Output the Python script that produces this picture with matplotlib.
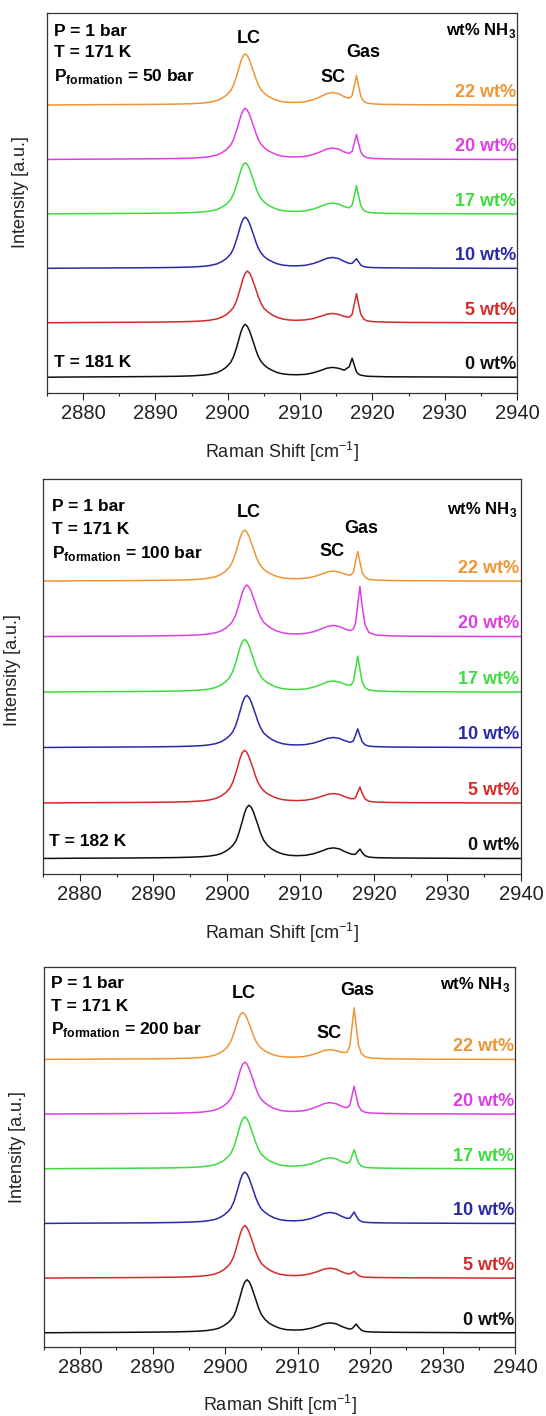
import matplotlib
matplotlib.use("Agg")
import matplotlib.pyplot as plt
import matplotlib.transforms as mtransforms
from matplotlib.ticker import MultipleLocator

plt.rcParams['font.family'] = ['Liberation Sans', 'DejaVu Sans']
plt.rcParams['mathtext.fontset'] = 'custom'
plt.rcParams['mathtext.rm'] = 'Liberation Sans'
plt.rcParams['mathtext.bf'] = 'Liberation Sans:bold'

# ---------------- data ----------------
raman_shift = [2875, 2880, 2885, 2890, 2893, 2895, 2896.5, 2897.5, 2898.5, 2899.2,
               2899.8, 2900.4, 2900.8, 2901.2, 2901.5, 2901.8, 2902.1, 2902.4, 2902.7, 2903.0,
               2903.3, 2903.6, 2903.9, 2904.2, 2904.6, 2905.0, 2905.5, 2906.1, 2906.8, 2907.6,
               2908.5, 2909.5, 2910.7, 2911.8, 2912.8, 2913.7, 2914.5, 2915.3, 2916.1, 2916.8,
               2917.2, 2917.5, 2917.8, 2918.1, 2918.4, 2918.8, 2919.3, 2920.2, 2922, 2925,
               2930, 2935, 2940]

wt_labels = ["0 wt%", "5 wt%", "10 wt%", "17 wt%", "20 wt%", "22 wt%"]
formation_pressures = ["50", "100", "200"]
low_temp_labels = ["T = 181 K", "T = 182 K", None]

# P_formation = 50 bar
p50_0wt = [0, .005, .008, .013, .017, .025, .037, .052, .083, .129,
           .184, .272, .378, .538, .679, .825, .926, .970, .936, .854,
           .737, .621, .495, .388, .291, .228, .173, .129, .087, .061,
           .049, .045, .052, .080, .121, .165, .181, .164, .130, .192,
           .348, .219, .099, .055, .038, .027, .018, .014, .008, .006,
           .004, .001, 0]
p50_5wt = [0, .005, .008, .012, .017, .024, .033, .047, .070, .105,
           .150, .219, .285, .399, .527, .665, .808, .907, .950, .917,
           .836, .722, .608, .485, .356, .266, .204, .147, .102, .068,
           .051, .045, .053, .077, .116, .157, .171, .155, .117, .102,
           .155, .343, .534, .337, .157, .067, .033, .020, .012, .006,
           .004, .001, 0]
p50_10wt = [0, .005, .008, .012, .017, .024, .036, .051, .081, .125,
            .179, .263, .367, .522, .658, .799, .898, .940, .907, .827,
            .714, .602, .479, .376, .282, .221, .167, .125, .085, .059,
            .048, .045, .055, .087, .134, .183, .200, .181, .127, .090,
            .092, .132, .177, .117, .061, .031, .020, .013, .009, .006,
            .004, .001, 0]
p50_17wt = [0, .005, .008, .012, .017, .024, .036, .051, .081, .125,
            .179, .263, .367, .522, .658, .799, .898, .940, .907, .827,
            .714, .602, .479, .376, .282, .221, .167, .125, .085, .059,
            .048, .045, .055, .087, .134, .183, .200, .181, .134, .111,
            .160, .336, .517, .328, .153, .065, .033, .018, .010, .006,
            .004, .001, 0]
p50_20wt = [0, .005, .008, .012, .017, .024, .036, .051, .081, .125,
            .179, .263, .367, .522, .658, .799, .898, .940, .907, .827,
            .714, .602, .479, .376, .282, .221, .167, .125, .085, .059,
            .048, .046, .056, .090, .140, .192, .210, .190, .138, .111,
            .151, .302, .458, .291, .137, .060, .031, .017, .010, .006,
            .004, .001, 0]
p50_22wt = [0, .005, .008, .012, .017, .024, .036, .051, .081, .125,
            .179, .263, .367, .522, .658, .799, .898, .940, .907, .827,
            .714, .602, .479, .376, .282, .221, .167, .125, .085, .059,
            .048, .047, .059, .097, .152, .210, .230, .208, .152, .124,
            .172, .354, .541, .343, .160, .069, .034, .019, .011, .006,
            .004, .001, 0]

# P_formation = 100 bar
p100_0wt = [0, .005, .007, .012, .016, .023, .031, .041, .061, .086,
            .128, .182, .235, .307, .403, .533, .672, .816, .917, .960,
            .926, .845, .730, .614, .451, .331, .240, .171, .121, .080,
            .057, .050, .057, .085, .129, .176, .191, .173, .120, .084,
            .073, .078, .124, .170, .108, .050, .025, .015, .010, .007,
            .004, .001, 0]
p100_5wt = [0, .005, .008, .012, .017, .025, .036, .051, .082, .126,
            .181, .266, .371, .527, .665, .808, .907, .950, .917, .836,
            .722, .608, .485, .380, .285, .223, .169, .126, .086, .060,
            .048, .043, .051, .076, .115, .156, .170, .154, .109, .079,
            .076, .099, .194, .287, .177, .073, .031, .017, .010, .006,
            .004, .001, 0]
p100_10wt = [0, .005, .008, .012, .017, .024, .033, .046, .070, .103,
             .149, .216, .282, .395, .522, .658, .799, .898, .940, .907,
             .827, .714, .602, .479, .353, .263, .202, .146, .101, .068,
             .051, .046, .053, .081, .122, .166, .181, .164, .119, .094,
             .118, .225, .335, .214, .104, .048, .025, .016, .010, .006,
             .004, .001, 0]
p100_17wt = [0, .005, .008, .012, .017, .025, .036, .051, .082, .126,
             .181, .266, .371, .527, .665, .808, .907, .950, .917, .836,
             .722, .608, .485, .380, .285, .223, .169, .126, .086, .060,
             .049, .045, .056, .087, .134, .183, .200, .181, .136, .119,
             .186, .414, .647, .408, .188, .078, .038, .021, .011, .006,
             .004, .001, 0]
p100_20wt = [0, .005, .007, .012, .017, .023, .033, .046, .069, .102,
             .147, .214, .279, .391, .516, .651, .791, .888, .930, .897,
             .818, .707, .595, .474, .349, .260, .200, .144, .100, .067,
             .051, .046, .057, .087, .135, .184, .200, .181, .133, .109,
             .134, .242, .581, .905, .549, .211, .075, .029, .014, .006,
             .004, .001, 0]
p100_22wt = [0, .005, .007, .012, .017, .024, .035, .050, .079, .122,
             .175, .258, .359, .511, .644, .782, .879, .920, .888, .810,
             .699, .589, .469, .368, .276, .216, .164, .122, .083, .058,
             .046, .043, .051, .079, .120, .165, .180, .163, .122, .105,
             .158, .344, .534, .338, .157, .067, .033, .019, .011, .006,
             .004, .001, 0]

# P_formation = 200 bar
p200_0wt = [0, .005, .007, .012, .016, .023, .031, .042, .062, .087,
            .129, .184, .238, .310, .407, .538, .679, .825, .926, .970,
            .936, .854, .737, .621, .456, .335, .243, .173, .122, .081,
            .056, .050, .055, .082, .122, .167, .181, .165, .115, .081,
            .069, .075, .117, .159, .102, .048, .023, .015, .010, .007,
            .004, .001, 0]
p200_5wt = [0, .005, .008, .012, .017, .024, .034, .047, .071, .106,
            .152, .221, .288, .403, .533, .672, .816, .917, .960, .926,
            .845, .730, .614, .490, .360, .269, .206, .149, .103, .069,
            .052, .046, .054, .081, .122, .166, .181, .164, .115, .081,
            .076, .099, .125, .085, .048, .027, .018, .013, .009, .006,
            .004, .001, 0]
p200_10wt = [0, .005, .008, .012, .017, .024, .033, .046, .070, .103,
             .149, .216, .282, .395, .522, .658, .799, .898, .940, .907,
             .827, .714, .602, .479, .353, .263, .202, .146, .101, .068,
             .052, .047, .057, .088, .135, .184, .201, .182, .128, .093,
             .098, .151, .208, .135, .070, .035, .021, .014, .009, .006,
             .004, .001, 0]
p200_17wt = [0, .005, .008, .012, .017, .024, .033, .047, .070, .105,
             .150, .219, .285, .399, .527, .665, .808, .907, .950, .917,
             .836, .722, .608, .485, .356, .266, .204, .147, .102, .068,
             .052, .047, .058, .088, .135, .184, .201, .182, .131, .102,
             .126, .235, .348, .222, .108, .049, .026, .017, .011, .006,
             .004, .001, 0]
p200_20wt = [0, .005, .008, .012, .017, .024, .033, .047, .070, .105,
             .150, .219, .285, .399, .527, .665, .808, .907, .950, .917,
             .836, .722, .608, .485, .356, .266, .204, .147, .102, .068,
             .052, .048, .059, .091, .141, .193, .211, .191, .140, .115,
             .161, .333, .509, .322, .152, .066, .033, .019, .011, .006,
             .004, .001, 0]
p200_22wt = [0, .004, .007, .011, .015, .022, .033, .046, .074, .114,
             .163, .241, .335, .477, .602, .731, .821, .860, .830, .757,
             .654, .550, .439, .344, .258, .202, .153, .114, .077, .054,
             .043, .041, .049, .078, .119, .164, .179, .162, .129, .129,
             .239, .589, .943, .591, .267, .107, .048, .025, .012, .006,
             .003, .001, 0]

panel_series = [
    [p50_0wt, p50_5wt, p50_10wt, p50_17wt, p50_20wt, p50_22wt],
    [p100_0wt, p100_5wt, p100_10wt, p100_17wt, p100_20wt, p100_22wt],
    [p200_0wt, p200_5wt, p200_10wt, p200_17wt, p200_20wt, p200_22wt],
]

# ---------------- style / layout ----------------
colors = ['#111111', '#D42A2A', '#2A2AA8', '#3EDB3E', '#DC40E4', '#EE9535']
W, H = 546, 1416
fig = plt.figure(figsize=(W / 100, H / 100), dpi=100)

boxes = [(47, 517, 13, 393), (43, 521, 479, 874), (44, 515, 967, 1347)]
ylims = [(-0.29, 6.69), (-0.28, 6.84), (-0.26, 6.69)]
txt = [
    dict(px=0.015, py=[0.950, 0.895, 0.832], nh=(0.998, 0.955), lc=(0.430, 0.934), gas=(0.672, 0.895),
         sc=(0.609, 0.829), tlow=(0.015, 0.079), xl=-0.155, yl=(-0.057, 0.53), lab_x=0.998),
    dict(px=0.019, py=[0.930, 0.871, 0.812], nh=(0.992, 0.922), lc=(0.431, 0.914), gas=(0.665, 0.875),
         sc=(0.605, 0.816), tlow=(0.012, 0.082), xl=-0.150, yl=(-0.063, 0.516), lab_x=0.997),
    dict(px=0.014, py=[0.957, 0.896, 0.836], nh=(0.989, 0.953), lc=(0.424, 0.931), gas=(0.665, 0.939),
         sc=(0.605, 0.825), tlow=None, xl=-0.153, yl=(-0.056, 0.527), lab_x=0.999),
]

fs_block = 12.5
fs_peak = 13
fs_lab = 13
fs_tick = 14.5
fs_axis = 13

for k in range(3):
    l, r, t, b = boxes[k]
    ax = fig.add_axes([l / W, 1 - b / H, (r - l) / W, (b - t) / H])
    for i, ys in enumerate(panel_series[k]):
        ax.plot(raman_shift, [v + i for v in ys], color=colors[i], lw=1.1, solid_joinstyle='round')
    ax.set_xlim(2875, 2940)
    ax.set_ylim(*ylims[k])
    ax.set_yticks([])
    ax.xaxis.set_major_locator(MultipleLocator(10))
    ax.xaxis.set_minor_locator(MultipleLocator(5))
    ax.tick_params(axis='x', which='major', direction='out', length=5, width=0.8,
                   labelsize=fs_tick, pad=3, colors='#222222')
    ax.tick_params(axis='x', which='minor', direction='out', length=2.5, width=0.8, colors='#222222')
    for sp in ax.spines.values():
        sp.set_linewidth(0.9)
        sp.set_color('#333333')

    d = txt[k]
    ax.set_xlabel(r'Raman Shift [cm$^{\mathregular{-1}}$]', fontsize=fs_axis, color='#222222')
    ax.xaxis.set_label_coords(0.5, d['xl'])
    ax.xaxis.label.set_va('center')
    ax.set_ylabel('Intensity [a.u.]', fontsize=fs_axis, color='#222222')
    ax.yaxis.set_label_coords(*d['yl'])
    ax.yaxis.label.set_va('center')

    tk = dict(transform=ax.transAxes, fontsize=fs_block, fontweight='bold', va='center')
    ax.text(d['px'], d['py'][0], 'P = 1 bar', ha='left', **tk)
    ax.text(d['px'], d['py'][1], 'T = 171 K', ha='left', **tk)
    ax.text(d['px'], d['py'][2], r'P$_{\mathregular{formation}}$ = ' + formation_pressures[k] + ' bar', ha='left', **tk)
    ax.text(*d['nh'], r'wt% NH$_{\mathregular{3}}$', transform=ax.transAxes, fontsize=12,
            fontweight='bold', ha='right', va='center')
    pk = dict(transform=ax.transAxes, fontsize=fs_peak, fontweight='bold', ha='center', va='center')
    ax.text(*d['lc'], 'LC', **pk)
    ax.text(*d['gas'], 'Gas', **pk)
    ax.text(*d['sc'], 'SC', **pk)
    if low_temp_labels[k] is not None:
        ax.text(*d['tlow'], low_temp_labels[k], ha='left', **tk)

    trans = mtransforms.blended_transform_factory(ax.transAxes, ax.transData)
    for i, lab in enumerate(wt_labels):
        ax.text(d['lab_x'], i + 0.23, lab, transform=trans, ha='right', va='center',
                color=colors[i], fontsize=fs_lab, fontweight='bold')

fig.savefig('out.png', dpi=100)
